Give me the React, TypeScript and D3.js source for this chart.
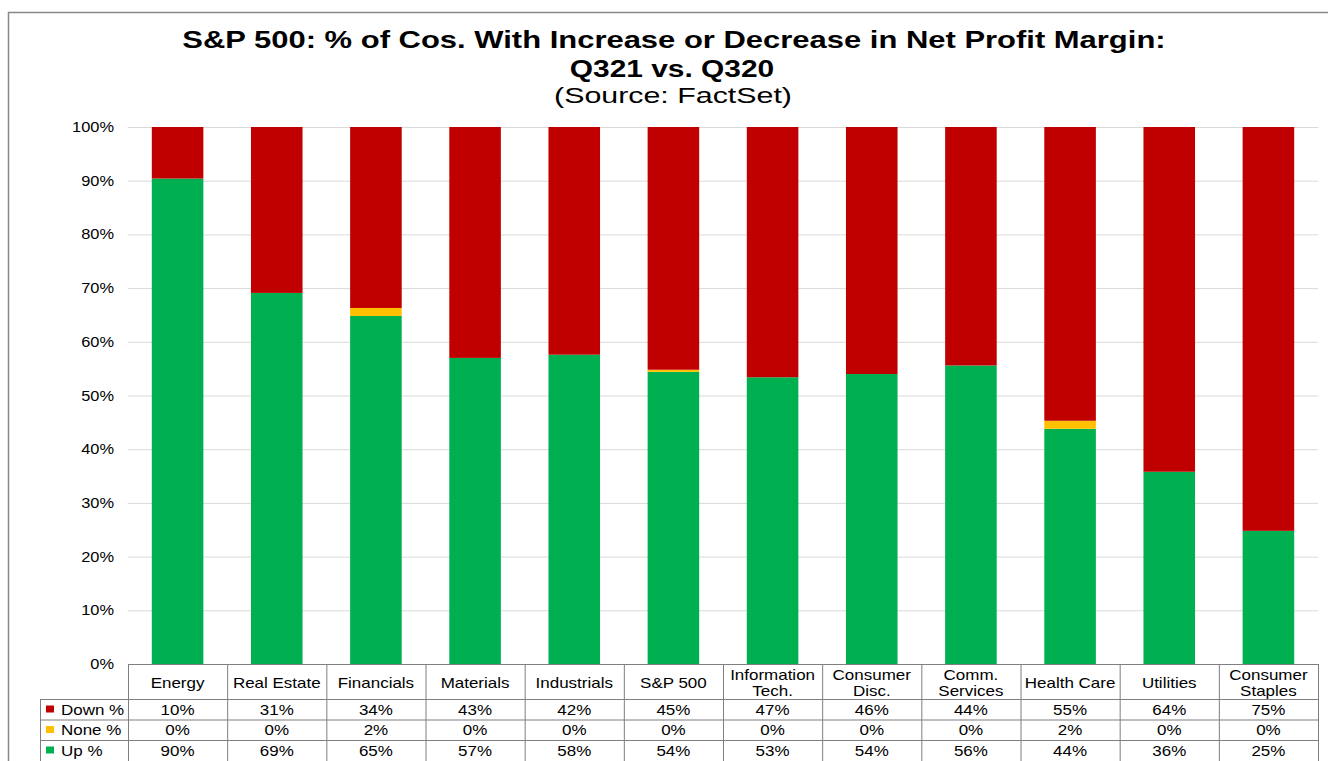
import React, { useEffect, useRef } from "react";
import * as d3 from "d3";

const categories = [
  "Energy", "Real Estate", "Financials", "Materials", "Industrials", "S&P 500",
  "Information\nTech.", "Consumer\nDisc.", "Comm.\nServices", "Health Care", "Utilities", "Consumer\nStaples",
];
// bar heights (percent)
const upValues = [90.4, 69.1, 64.8, 57.0, 57.6, 54.4, 53.4, 54.0, 55.6, 43.8, 35.8, 24.8];
const noneValues = [0, 0, 1.5, 0, 0, 0.4, 0, 0, 0, 1.5, 0, 0];
const downValues = [9.6, 30.9, 33.7, 43.0, 42.4, 45.2, 46.6, 46.0, 44.4, 54.7, 64.2, 75.2];
const yTicks = [0, 10, 20, 30, 40, 50, 60, 70, 80, 90, 100];
const seriesNames = ["Down %", "None %", "Up %"];
const seriesColors = ["#C00000", "#FFC000", "#00B050"];
const titleLines = [
  "S&P 500: % of Cos. With Increase or Decrease in Net Profit Margin:",
  "Q321 vs. Q320",
  "(Source: FactSet)",
];

const W = 1328, H = 761;

export default function App() {
  const ref = useRef<SVGSVGElement>(null);

  useEffect(() => {
    const svg = d3.select(ref.current);
    svg.selectAll("*").remove();
    const font = "'Liberation Sans', Arial, sans-serif";

    const left = 128, right = 1318, top = 127, bottom = 664;
    const x = d3.scaleBand().domain(categories).range([left, right]).paddingInner(0.48).paddingOuter(0.24);
    const col = d3.scaleBand().domain(categories).range([left, right]);
    const y = d3.scaleLinear().domain([0, 100]).range([bottom, top]);

    svg.append("rect").attr("width", W).attr("height", H).attr("fill", "#fff");
    svg.append("rect").attr("x", 8.5).attr("y", 12.5).attr("width", W + 10).attr("height", H + 10)
      .attr("fill", "none").attr("stroke", "#888").attr("stroke-width", 1.5);

    // title (the source picture is stretched sideways)
    const title = svg.append("g").attr("font-family", font).attr("text-anchor", "middle").attr("fill", "#000");
    title.append("text").attr("class", "wide").attr("data-k", 1.29).attr("x", 674).attr("y", 48)
      .attr("font-size", 24).attr("font-weight", "bold").text(titleLines[0]);
    title.append("text").attr("class", "wide").attr("data-k", 1.3).attr("x", 672).attr("y", 77)
      .attr("font-size", 23).attr("font-weight", "bold").text(titleLines[1]);
    title.append("text").attr("class", "wide").attr("data-k", 1.38).attr("x", 673).attr("y", 103)
      .attr("font-size", 22).text(titleLines[2]);

    // grid + y labels
    const g = svg.append("g");
    g.selectAll("line.grid").data(yTicks.filter(d => d > 0)).join("line")
      .attr("x1", left).attr("x2", right).attr("y1", d => y(d) + 0.5).attr("y2", d => y(d) + 0.5)
      .attr("stroke", "#d9d9d9").attr("stroke-width", 1);
    g.selectAll("text.ytick").data(yTicks).join("text")
      .attr("class", "wide")
      .attr("x", 114).attr("y", d => y(d) + 5).attr("text-anchor", "end")
      .attr("font-family", font).attr("font-size", 14).attr("fill", "#000")
      .text(d => d + "%");

    // stacked bars: up, none, down
    const rows = categories.map((c, i) => ({ cat: c, up: upValues[i], none: noneValues[i], down: downValues[i] }));
    const stack = d3.stack<any>().keys(["up", "none", "down"])(rows);
    const colorFor: Record<string, string> = { up: seriesColors[2], none: seriesColors[1], down: seriesColors[0] };
    stack.forEach(layer => {
      g.append("g").attr("fill", colorFor[layer.key]).selectAll("rect").data(layer).join("rect")
        .attr("x", d => x(d.data.cat)!)
        .attr("width", x.bandwidth())
        .attr("y", d => y(Math.min(d[1], 100)))
        .attr("height", d => y(d[0]) - y(Math.min(d[1], 100)));
    });

    // data table
    const t = svg.append("g").attr("font-family", font).attr("font-size", 14.5).attr("fill", "#000");
    const headTop = bottom, headBot = 699, rowH = 20.5;
    const lineColor = "#7f7f7f";
    const tableBottom = headBot + rowH * 3 + 10;
    t.append("line").attr("x1", left).attr("x2", right).attr("y1", headTop + 0.5).attr("y2", headTop + 0.5)
      .attr("stroke", lineColor);
    for (let r = 0; r < 3; r++) {
      const yy = headBot + rowH * r;
      t.append("line").attr("x1", 40).attr("x2", right).attr("y1", yy + 0.5).attr("y2", yy + 0.5).attr("stroke", lineColor);
    }
    categories.forEach(c => {
      const xx = col(c)!;
      t.append("line").attr("x1", xx + 0.5).attr("x2", xx + 0.5).attr("y1", headTop).attr("y2", tableBottom).attr("stroke", lineColor);
    });
    t.append("line").attr("x1", right + 0.5).attr("x2", right + 0.5).attr("y1", headTop).attr("y2", tableBottom).attr("stroke", lineColor);
    t.append("line").attr("x1", 40.5).attr("x2", 40.5).attr("y1", headBot).attr("y2", tableBottom).attr("stroke", lineColor);

    categories.forEach(c => {
      const cx = col(c)! + col.bandwidth() / 2;
      const parts = c.split("\n");
      parts.forEach((p, k) => {
        const yy = parts.length === 1 ? 688 : 680 + k * 16;
        t.append("text").attr("class", "wide").attr("x", cx).attr("y", yy).attr("text-anchor", "middle").text(p);
      });
    });

    const series = [downValues, noneValues, upValues];
    series.forEach((vals, r) => {
      const yy = headBot + rowH * r + 15.5;
      t.append("rect").attr("x", 46).attr("y", yy - 9).attr("width", 8).attr("height", 7).attr("fill", seriesColors[r]);
      t.append("text").attr("class", "wide").attr("x", 61).attr("y", yy).text(seriesNames[r]);
      vals.forEach((v, i) => {
        t.append("text").attr("class", "wide").attr("x", col(categories[i])! + col.bandwidth() / 2).attr("y", yy)
          .attr("text-anchor", "middle").text(Math.round(v) + "%");
      });
    });

    // widen all text like the stretched original
    svg.selectAll<SVGTextElement, unknown>("text.wide").each(function () {
      const k = +(this.getAttribute("data-k") || 1.17);
      const len = this.getComputedTextLength();
      this.setAttribute("textLength", String(len * k));
      this.setAttribute("lengthAdjust", "spacingAndGlyphs");
    });
  }, []);

  return (
    <svg ref={ref} width={W} height={H}
      style={{ position: "absolute", left: 0, top: 0, display: "block" }} />
  );
}
